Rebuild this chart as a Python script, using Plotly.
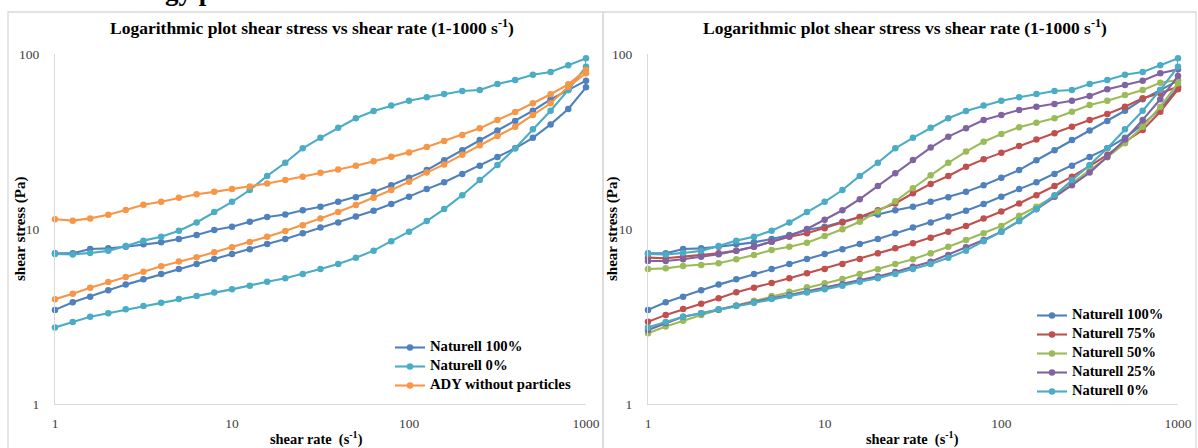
import plotly.graph_objects as go

W, H = 1198, 448

shear_rate = [1, 1.26, 1.58, 2, 2.51, 3.16, 3.98, 5.01, 6.31, 7.94, 10, 12.6, 15.8, 20, 25.1,
              31.6, 39.8, 50.1, 63.1, 79.4, 100, 126, 158, 200, 251, 316, 398, 501, 631, 794, 1000]

# up curves (increasing shear rate) and down curves (decreasing), both listed from 1 to 1000 s-1
n100_up = [7.26, 7.26, 7.69, 7.75, 7.92, 8.17, 8.39, 8.77, 9.24, 9.87, 10.3, 11.0, 11.7, 12.1, 12.8,
           13.4, 14.3, 15.2, 16.3, 17.8, 19.6, 21.7, 24.7, 28.2, 32.3, 36.5, 41.4, 47.4, 55.1, 62.3, 70.4]
n100_down = [3.45, 3.81, 4.10, 4.46, 4.81, 5.16, 5.53, 5.91, 6.31, 6.74, 7.2, 7.66, 8.21, 8.77, 9.45,
             10.2, 10.9, 11.8, 12.7, 13.9, 15.3, 16.9, 18.5, 20.6, 23.0, 25.8, 28.9, 33.2, 39.6, 48.5, 64.5]

n0_up = [7.2, 7.15, 7.3, 7.5, 8.0, 8.58, 9.04, 9.78, 10.9, 12.5, 14.3, 16.7, 20.1, 23.9, 28.9,
         33.2, 37.9, 42.9, 47.2, 50.7, 54.1, 56.6, 59.0, 61.5, 62.3, 67.4, 71.0, 76.2, 78.9, 86.1, 94.5]
n0_down = [2.74, 2.94, 3.15, 3.30, 3.48, 3.63, 3.79, 3.98, 4.14, 4.33, 4.52, 4.74, 5.0, 5.23, 5.53,
           5.91, 6.31, 6.85, 7.52, 8.5, 9.66, 11.1, 13.0, 15.6, 19.05, 23.2, 28.9, 37.1, 47.4, 62.3, 84.6]

ady_up = [11.36, 11.16, 11.5, 12.07, 12.84, 13.77, 14.3, 15.1, 15.8, 16.3, 16.9, 17.5, 18.2, 19.05, 19.9,
          20.97, 21.9, 23.0, 24.4, 25.9, 27.4, 29.4, 31.8, 34.4, 37.6, 42.0, 46.6, 52.3, 58.9, 67.1, 81.0]
ady_down = [3.97, 4.27, 4.62, 4.98, 5.32, 5.70, 6.12, 6.51, 6.89, 7.36, 7.86, 8.43, 9.04, 9.74, 10.5,
            11.5, 12.5, 13.7, 15.1, 16.7, 18.6, 21.0, 23.4, 26.6, 30.1, 34.0, 38.4, 44.8, 52.3, 65.0, 77.6]

n75_up = [6.86, 6.80, 6.95, 7.1, 7.26, 7.52, 7.92, 8.46, 9.04, 9.45, 10.1, 10.9, 11.7, 12.8, 14.0,
          16.0, 18.1, 20.1, 22.7, 25.0, 27.3, 29.8, 32.5, 35.2, 38.4, 42.0, 45.4, 50.0, 55.8, 59.6, 65.0]
n75_down = [2.95, 3.23, 3.49, 3.74, 4.02, 4.35, 4.62, 4.91, 5.23, 5.58, 5.91, 6.31, 6.74, 7.26, 7.75,
            8.28, 8.92, 9.65, 10.4, 11.5, 12.6, 14.0, 15.6, 17.6, 19.9, 22.9, 26.5, 31.5, 36.8, 46.8, 62.9]

n50_up = [5.91, 5.96, 6.15, 6.23, 6.37, 6.71, 7.1, 7.59, 7.92, 8.35, 9.12, 9.96, 11.0, 12.6, 14.4,
          17.1, 20.3, 23.9, 27.7, 31.5, 34.9, 38.1, 40.5, 42.9, 46.8, 51.1, 54.1, 58.3, 62.3, 68.5, 71.0]
n50_down = [2.54, 2.77, 2.99, 3.23, 3.45, 3.66, 3.89, 4.14, 4.38, 4.64, 4.89, 5.18, 5.53, 5.89, 6.31,
            6.71, 7.26, 7.92, 8.65, 9.45, 10.4, 11.9, 13.4, 15.4, 18.2, 21.7, 25.7, 30.9, 38.4, 50.0, 68.0]

n25_up = [6.56, 6.56, 6.71, 6.95, 7.17, 7.52, 7.92, 8.46, 9.12, 10.0, 11.3, 12.8, 14.8, 17.6, 20.8,
          24.8, 29.2, 33.7, 37.6, 42.0, 44.8, 47.9, 50.0, 51.8, 54.1, 57.5, 62.9, 66.5, 70.4, 77.6, 81.7]
n25_down = [2.65, 2.9, 3.15, 3.30, 3.47, 3.64, 3.82, 4.02, 4.2, 4.4, 4.6, 4.84, 5.1, 5.36, 5.67,
            6.09, 6.5, 7.1, 7.86, 8.65, 9.66, 11.1, 12.95, 15.3, 17.8, 21.0, 25.9, 32.5, 42.0, 55.1, 74.8]

x_tick_labels = ["1", "10", "100", "1000"]
x_tick_vals = [1, 10, 100, 1000]
y_tick_labels = ["1", "10", "100"]
y_tick_vals = [1, 10, 100]

BLUE, RED, GREEN, PURPLE, CYAN, ORANGE = "#4F81BD", "#C0504D", "#9BBB59", "#8064A2", "#4BACC6", "#F79646"
SERIF = "Liberation Serif, Times New Roman, serif"

left_series = [("Naturell 100%", n100_up, n100_down, BLUE),
               ("Naturell 0%", n0_up, n0_down, CYAN),
               ("ADY without particles", ady_up, ady_down, ORANGE)]
right_series = [("Naturell 100%", n100_up, n100_down, BLUE),
                ("Naturell 75%", n75_up, n75_down, RED),
                ("Naturell 50%", n50_up, n50_down, GREEN),
                ("Naturell 25%", n25_up, n25_down, PURPLE),
                ("Naturell 0%", n0_up, n0_down, CYAN)]

fig = go.Figure()

def add(series, xa, ya, leg, fs):
    for name, up, down, col in series:
        fig.add_trace(go.Scatter(
            x=shear_rate + shear_rate[::-1], y=up + down[::-1],
            mode="lines+markers", name=f"<span style='font-size:{fs}px'>{name}</span>",
            xaxis=xa, yaxis=ya, legend=leg,
            line=dict(color=col, width=2.1), marker=dict(color=col, size=6.5, symbol="circle"),
            cliponaxis=False))

add(left_series, "x", "y", "legend", 14.7)
add(right_series, "x2", "y2", "legend2", 14.5)

def px_x(p):
    return p / W

def px_y(p):
    return (H - p) / H

ydom = [px_y(404), px_y(54)]
axis_common = dict(type="log", showline=True, linecolor="#D9D9D9", linewidth=1, showgrid=False,
                   zeroline=False, ticks="", automargin=False,
                   tickfont=dict(family=SERIF, size=13.5, color="#404040"))

fig.update_layout(
    width=W, height=H, margin=dict(l=0, r=0, t=0, b=0, autoexpand=False),
    paper_bgcolor="white", plot_bgcolor="white",
    xaxis=dict(axis_common, domain=[px_x(55), px_x(586)], range=[0, 3], anchor="y",
               tickvals=x_tick_vals, ticktext=x_tick_labels, ticklabelstandoff=7),
    yaxis=dict(axis_common, domain=ydom, range=[0, 2], anchor="x",
               tickvals=y_tick_vals, ticktext=y_tick_labels, ticklabelstandoff=12),
    xaxis2=dict(axis_common, domain=[px_x(648), px_x(1178)], range=[0, 3], anchor="y2",
                tickvals=x_tick_vals, ticktext=x_tick_labels, ticklabelstandoff=7),
    yaxis2=dict(axis_common, domain=ydom, range=[0, 2], anchor="x2",
                tickvals=y_tick_vals, ticktext=y_tick_labels, ticklabelstandoff=12),
    legend=dict(x=px_x(390), y=px_y(333), xanchor="left", yanchor="top",
                bgcolor="rgba(0,0,0,0)", font=dict(family=SERIF, size=10, color="black", weight="bold"),
                tracegroupgap=0, itemwidth=30),
    legend2=dict(x=px_x(1032), y=px_y(301), xanchor="left", yanchor="top",
                 bgcolor="rgba(0,0,0,0)", font=dict(family=SERIF, size=10, color="black", weight="bold"),
                 tracegroupgap=0, itemwidth=30),
    showlegend=True,
)

# panel frames
for x0, x1 in [(8, 603), (603, 1196)]:
    fig.add_shape(type="rect", xref="paper", yref="paper", x0=px_x(x0), x1=px_x(x1),
                  y0=px_y(470), y1=px_y(12), line=dict(color="#D9D9D9", width=1.3),
                  fillcolor="rgba(0,0,0,0)", layer="below")

title_txt = "<b>Logarithmic plot shear stress vs shear rate (1-1000 s<sup>-1</sup>)</b>"
ann = []
for cx in (312, 905):
    ann.append(dict(text=title_txt, x=px_x(cx), y=px_y(27), xref="paper", yref="paper",
                    xanchor="center", yanchor="middle", showarrow=False,
                    font=dict(family=SERIF, size=17.5, color="black")))
for cx in (20, 612):
    ann.append(dict(text="<b>shear stress (Pa)</b>", x=px_x(cx), y=px_y(229), xref="paper", yref="paper",
                    xanchor="center", yanchor="middle", showarrow=False, textangle=-90,
                    font=dict(family=SERIF, size=15, color="black")))
for cx in (316, 912):
    ann.append(dict(text="<b>shear rate  (s<sup>-1</sup>)</b>", x=px_x(cx), y=px_y(438), xref="paper",
                    yref="paper", xanchor="center", yanchor="middle", showarrow=False,
                    font=dict(family=SERIF, size=14.4, color="black")))
ann.append(dict(text="<b>Rheology plots</b>", x=px_x(82), y=px_y(-9), xref="paper", yref="paper",
                xanchor="left", yanchor="middle", showarrow=False,
                font=dict(family=SERIF, size=27, color="black")))
fig.update_layout(annotations=ann)

fig.write_html("out.html", config={"displayModeBar": False},
               post_script="document.body.style.margin='0px';document.body.style.overflow='hidden';")
